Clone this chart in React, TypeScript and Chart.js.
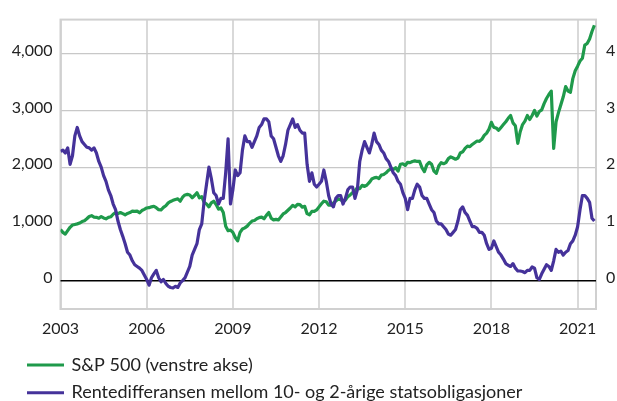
import { useEffect, useRef } from 'react';
import { Chart, registerables } from 'chart.js';

Chart.register(...registerables);

const START_YEAR = 2003;
const X_MAX = 2021.64;
const xTickYears = [2003, 2006, 2009, 2012, 2015, 2018, 2021];
const leftTicks = [0, 1000, 2000, 3000, 4000];
const rightTicks = [0, 1, 2, 3, 4];
const seriesLabels = [
  'S&P 500 (venstre akse)',
  'Rentedifferansen mellom 10- og 2-årige statsobligasjoner',
];

// S&P 500, monthly, Jan 2003 - Aug 2021
const sp500 = [
  900, 850, 820, 880, 940, 980, 990, 1000, 1015, 1040, 1055, 1090,
  1130, 1145, 1120, 1115, 1100, 1130, 1105, 1090, 1115, 1125, 1170, 1200,
  1180, 1200, 1180, 1160, 1185, 1200, 1225, 1220, 1225, 1195, 1235, 1255,
  1280, 1285, 1300, 1310, 1285, 1250, 1245, 1290, 1320, 1370, 1395, 1415,
  1430, 1440, 1400, 1470, 1510, 1520, 1510, 1460, 1500, 1550, 1460, 1480,
  1380, 1350, 1300, 1370, 1400, 1340, 1260, 1280, 1200, 960, 880, 890,
  850, 760, 700, 850, 910, 930, 960, 1010, 1050, 1060, 1090, 1110,
  1120, 1090, 1150, 1200, 1100, 1070, 1080, 1070, 1120, 1175, 1200, 1240,
  1280, 1325, 1300, 1345, 1340, 1295, 1310, 1180, 1160, 1220, 1220, 1245,
  1300, 1355, 1400, 1390, 1330, 1330, 1370, 1405, 1440, 1425, 1395, 1420,
  1480, 1510, 1550, 1580, 1640, 1620, 1680, 1660, 1685, 1730, 1790, 1810,
  1820, 1800, 1860, 1870, 1900, 1945, 1970, 1960, 1990, 1930, 2050, 2060,
  2030, 2085, 2080, 2100, 2110, 2100, 2100, 1990, 1920, 2040, 2085, 2050,
  1930, 1890, 2020, 2080, 2060, 2080, 2150, 2180, 2160, 2140, 2160, 2250,
  2270, 2330, 2370, 2360, 2400, 2430, 2460, 2455, 2490, 2560, 2600, 2670,
  2790, 2700, 2690, 2650, 2700, 2750, 2800, 2860, 2910, 2780, 2730, 2420,
  2620, 2750, 2810, 2910, 2840, 2910, 3000, 2900, 2980, 3010, 3120, 3210,
  3280, 3340, 2330, 2800, 2960, 3100, 3240, 3420, 3340, 3320, 3560, 3700,
  3780, 3870, 3920, 4150, 4180, 4260, 4390, 4500,
];

// 10y - 2y spread, percentage points, monthly, Jan 2003 - Aug 2021
const spread = [
  2.28, 2.30, 2.25, 2.34, 2.05, 2.20, 2.55, 2.70, 2.55, 2.45, 2.40, 2.35,
  2.34, 2.30, 2.34, 2.25, 2.10, 2.00, 1.85, 1.75, 1.60, 1.50, 1.35, 1.25,
  1.05, 0.90, 0.78, 0.65, 0.50, 0.45, 0.35, 0.28, 0.25, 0.22, 0.18, 0.10,
  0.02, -0.08, 0.05, 0.12, 0.18, 0.05, -0.02, 0.02, -0.05, -0.10, -0.12, -0.13,
  -0.10, -0.12, -0.04, 0.00, 0.05, 0.15, 0.25, 0.45, 0.55, 0.65, 0.90, 1.00,
  1.40, 1.70, 2.00, 1.80, 1.55, 1.50, 1.35, 1.45, 1.45, 1.90, 2.50, 1.35,
  1.60, 1.95, 1.85, 1.90, 2.30, 2.55, 2.45, 2.45, 2.35, 2.45, 2.55, 2.70,
  2.75, 2.85, 2.85, 2.80, 2.55, 2.50, 2.35, 2.20, 2.10, 2.20, 2.40, 2.65,
  2.75, 2.85, 2.70, 2.75, 2.65, 2.60, 2.60, 2.05, 1.75, 1.90, 1.70, 1.65,
  1.70, 1.75, 1.95, 1.75, 1.50, 1.35, 1.30, 1.45, 1.50, 1.50, 1.35, 1.45,
  1.60, 1.65, 1.65, 1.45, 1.60, 2.10, 2.30, 2.45, 2.35, 2.25, 2.40, 2.60,
  2.45, 2.40, 2.30, 2.25, 2.15, 2.10, 2.00, 1.90, 1.85, 1.75, 1.70, 1.55,
  1.45, 1.25, 1.45, 1.45, 1.60, 1.70, 1.65, 1.50, 1.45, 1.45, 1.35, 1.25,
  1.20, 1.05, 1.00, 1.00, 0.95, 0.90, 0.82, 0.80, 0.85, 0.90, 1.05, 1.25,
  1.30, 1.20, 1.15, 1.05, 0.95, 0.95, 0.92, 0.85, 0.85, 0.80, 0.65, 0.55,
  0.57, 0.70, 0.60, 0.50, 0.45, 0.38, 0.30, 0.27, 0.25, 0.30, 0.22, 0.17,
  0.17, 0.16, 0.14, 0.18, 0.18, 0.24, 0.22, 0.05, 0.02, 0.12, 0.20, 0.28,
  0.25, 0.18, 0.35, 0.55, 0.50, 0.52, 0.45, 0.50, 0.53, 0.65, 0.70, 0.80,
  0.95, 1.25, 1.50, 1.50, 1.45, 1.38, 1.10, 1.05,
];

const GREEN = '#1f9a4b';
const PURPLE = '#45329a';
const TEXT = '#222222';
const FONT = 'Lato';

const monthX = (i: number) => START_YEAR + i / 12;

const frameAndLegend = {
  id: 'frameAndLegend',
  beforeDatasetsDraw(chart: any) {
    const { ctx, chartArea } = chart;
    ctx.save();
    ctx.strokeStyle = '#d0d0d0';
    ctx.lineWidth = 2;
    ctx.strokeRect(chartArea.left, chartArea.top, chartArea.right - chartArea.left, chartArea.bottom - chartArea.top);
    const y0 = chart.scales.y.getPixelForValue(0);
    ctx.strokeStyle = '#000';
    ctx.lineWidth = 1.5;
    ctx.beginPath();
    ctx.moveTo(chartArea.left, y0);
    ctx.lineTo(chartArea.right, y0);
    ctx.stroke();
    ctx.restore();
  },
  afterDraw(chart: any) {
    const { ctx } = chart;
    ctx.save();
    ctx.font = `18px ${FONT}`;
    ctx.textBaseline = 'alphabetic';
    ctx.textAlign = 'left';
    const order = [1, 0];
    order.forEach((dsIndex, row) => {
      const ds = chart.data.datasets[dsIndex];
      const y = 365 + row * 27.7;
      ctx.strokeStyle = ds.borderColor;
      ctx.lineWidth = 3;
      ctx.beginPath();
      ctx.moveTo(27, y);
      ctx.lineTo(64, y);
      ctx.stroke();
      ctx.fillStyle = TEXT;
      ctx.fillText(ds.label, 71.5, y + 5.7);
    });
    ctx.restore();
  },
};

export default function App() {
  const canvasRef = useRef<HTMLCanvasElement | null>(null);

  useEffect(() => {
    document.body.style.margin = '0';
    const canvas = canvasRef.current;
    if (!canvas) return;
    Chart.defaults.font.family = FONT;
    const chart = new Chart(canvas, {
      type: 'line',
      data: {
        datasets: [
          {
            label: seriesLabels[1],
            data: spread.map((v, i) => ({ x: monthX(i), y: v })),
            borderColor: PURPLE,
            backgroundColor: PURPLE,
            borderWidth: 3.2,
            pointRadius: 0,
            tension: 0,
            yAxisID: 'y2',
            borderJoinStyle: 'round',
          },
          {
            label: seriesLabels[0],
            data: sp500.map((v, i) => ({ x: monthX(i), y: v })),
            borderColor: GREEN,
            backgroundColor: GREEN,
            borderWidth: 3.2,
            pointRadius: 0,
            tension: 0,
            yAxisID: 'y',
            borderJoinStyle: 'round',
          },
        ],
      },
      options: {
        responsive: false,
        animation: false,
        devicePixelRatio: 1,
        layout: { padding: { top: 16.7, left: 0, right: 0, bottom: 0 } },
        plugins: { legend: { display: false }, tooltip: { enabled: false } },
        scales: {
          x: {
            type: 'linear',
            min: START_YEAR,
            max: X_MAX,
            afterBuildTicks: (scale: any) => {
              scale.ticks = xTickYears.map((v) => ({ value: v }));
            },
            afterFit: (scale: any) => {
              scale.height = 92;
            },
            grid: { color: '#d9d9d9', lineWidth: 2, drawTicks: false },
            border: { display: false },
            ticks: {
              padding: 10,
              color: TEXT,
              font: { size: 16, family: FONT },
              maxRotation: 0,
              autoSkip: false,
              callback: (v: any) => String(v),
            },
          },
          y: {
            position: 'left',
            min: -500,
            max: 4600,
            afterBuildTicks: (scale: any) => {
              scale.ticks = leftTicks.map((v) => ({ value: v }));
            },
            afterFit: (scale: any) => {
              scale.width = 60.5;
            },
            grid: {
              color: (c: any) => (c.tick && c.tick.value === 0 ? 'rgba(0,0,0,0)' : '#c8c8c8'),
              lineWidth: 1.2,
              drawTicks: false,
            },
            border: { display: false },
            ticks: {
              padding: 8,
              labelOffset: -3,
              color: TEXT,
              font: { size: 16, family: FONT },
              callback: (v: any) => Number(v).toLocaleString('en-US'),
            },
          },
          y2: {
            position: 'right',
            min: -0.5,
            max: 4.6,
            afterBuildTicks: (scale: any) => {
              scale.ticks = rightTicks.map((v) => ({ value: v }));
            },
            afterFit: (scale: any) => {
              scale.width = 21;
            },
            grid: { display: false, drawTicks: false },
            border: { display: false },
            ticks: {
              padding: 10,
              labelOffset: -3,
              color: TEXT,
              font: { size: 16, family: FONT },
              callback: (v: any) => String(v),
            },
          },
        },
      },
      plugins: [frameAndLegend],
    });
    return () => chart.destroy();
  }, []);

  return (
    <div style={{ position: 'absolute', left: 0, top: 0, width: 617, height: 401 }}>
      <canvas ref={canvasRef} width={617} height={401} style={{ width: 617, height: 401 }} />
    </div>
  );
}
